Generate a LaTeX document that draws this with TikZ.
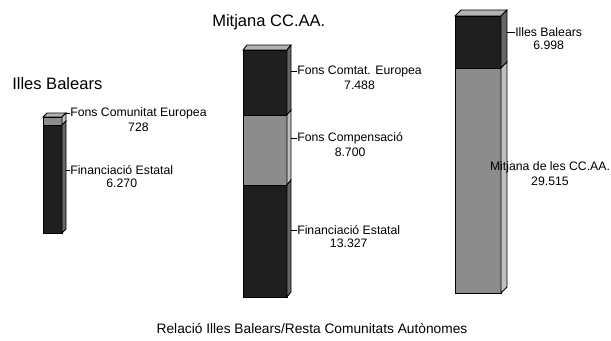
\documentclass[tikz,border=0pt]{standalone}
\usepackage{fontspec}
\setmainfont{Liberation Sans}
\usetikzlibrary{positioning}
\begin{document}
\begin{tikzpicture}[x=0.75pt,y=-0.75pt,
  dark/.style={fill=black!88,draw=black,line width=0.6pt},
  darkside/.style={fill=black!60,draw=black,line width=0.6pt},
  light/.style={fill=black!45,draw=black,line width=0.6pt},
  lightside/.style={fill=black!25,draw=black,line width=0.6pt},
  topface/.style={fill=black!30,draw=black,line width=0.6pt},
  ttl/.style={font=\fontsize{12.4pt}{14pt}\selectfont,inner sep=0pt},
  lbl/.style={font=\fontsize{9.2pt}{11pt}\selectfont,inner sep=0pt},
  leader/.style={line width=0.5pt}]
\useasboundingbox (0,0) rectangle (611,340);
% left bar: Illes Balears
\filldraw[topface] (43,117) -- (47,113) -- (66,113) -- (62,117) -- cycle;
\foreach \ya/\yb/\st/\sd in {117/125/light/lightside,125/233/dark/darkside} {
  \filldraw[\st] (43,\ya) rectangle (62,\yb);
  \filldraw[\sd] (62,\ya) -- (66,\ya-4) -- (66,\yb-4) -- (62,\yb) -- cycle;
}
% middle bar: Mitjana CC.AA.
\filldraw[topface] (243,50) -- (247,45) -- (291,45) -- (287,50) -- cycle;
\foreach \ya/\yb/\st/\sd in {50/115/dark/darkside,115/185/light/lightside,185/297/dark/darkside} {
  \filldraw[\st] (243,\ya) rectangle (287,\yb);
  \filldraw[\sd] (287,\ya) -- (291,\ya-5) -- (291,\yb-5) -- (287,\yb) -- cycle;
}
% right bar: relacio
\filldraw[topface] (455,16) -- (461,10) -- (507,10) -- (501,16) -- cycle;
\foreach \ya/\yb/\st/\sd in {16/68/dark/darkside,68/293/light/lightside} {
  \filldraw[\st] (455,\ya) rectangle (501,\yb);
  \filldraw[\sd] (501,\ya) -- (507,\ya-6) -- (507,\yb-6) -- (501,\yb) -- cycle;
}
% titles
\node[ttl,anchor=west] (ttlib) at (12,84) {Illes Balears};
\node[ttl,anchor=west] (ttlmit) at (212,22) {Mitjana CC.AA.};
\node[lbl,font=\fontsize{10.3pt}{12pt}\selectfont] (caption) at (312,329) {Relació Illes Balears/Resta Comunitats Autònomes};
% labels left bar
\coordinate (lfce) at (66,113);
\coordinate (lfe) at (66,170);
\node[lbl,anchor=west] (ibfce) at (70,113) {Fons Comunitat Europea};
\node[lbl,below=3pt of ibfce] (ibfcev) {728};
\node[lbl,anchor=west] (ibfe) at (70,170) {Financiació Estatal};
\node[lbl,below=3pt of ibfe] (ibfev) {6.270};
\draw[leader] (lfce) -- (ibfce.west);
\draw[leader] (lfe) -- (ibfe.west);
% labels middle bar
\coordinate (mfce) at (291,71);
\coordinate (mfc) at (291,138);
\coordinate (mfe) at (291,230);
\node[lbl,anchor=west] (mitfce) at (297,71) {Fons Comtat. Europea};
\node[lbl,below=3pt of mitfce] (mitfcev) {7.488};
\node[lbl,anchor=west] (mitfc) at (297,138) {Fons Compensació};
\node[lbl,below=3pt of mitfc] (mitfcv) {8.700};
\node[lbl,anchor=west] (mitfe) at (297,230) {Financiació Estatal};
\node[lbl,below=3pt of mitfe] (mitfev) {13.327};
\draw[leader] (mfce) -- (mitfce.west);
\draw[leader] (mfc) -- (mitfc.west);
\draw[leader] (mfe) -- (mitfe.west);
% labels right bar
\coordinate (rib) at (507,32);
\node[lbl,anchor=west] (relib) at (515,32) {Illes Balears};
\node[lbl,below=3pt of relib] (relibv) {6.998};
\node[lbl] (relmit) at (550,167) {Mitjana de les CC.AA.};
\node[lbl,below=3pt of relmit] (relmitv) {29.515};
\draw[leader] (rib) -- (relib.west);
\end{tikzpicture}
\end{document}
